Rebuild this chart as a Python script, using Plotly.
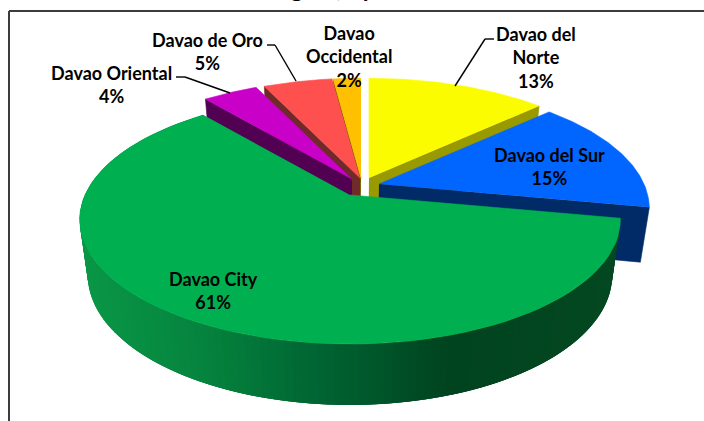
import numpy as np
import plotly.graph_objects as go

# ---- data ----
categories = ["Davao del Norte", "Davao del Sur", "Davao City",
              "Davao Oriental", "Davao de Oro", "Davao Occidental"]
values = [13, 15, 61, 4, 5, 2]
label_lines = [["Davao del", "Norte"], ["Davao del Sur"], ["Davao City"],
               ["Davao Oriental"], ["Davao de Oro"], ["Davao", "Occidental"]]
title_fragment = "Region, by"

# ---- styles ----
top_colors = ["#fcfc00", "#0066ff", "#00b050", "#c800c8", "#ff5050", "#ffc000"]
wall_colors = ["#999900", "#002b66", None, "#520052", "#702a2a", "#7f6000"]
wall_edge = ["end", "end", None, "start", "start", "start"]
draw_order = [5, 4, 3, 0, 1, 2]

# ---- 3D pie geometry (pixel space of the photo) ----
apex = [(369, 178), (379, 184), (350, 195), (352, 179), (360, 178), (361, 178)]
A, B, P = 265.0, 119.5, 0.198
label_pos = [(536, 57), (549, 166), (213, 290), (111, 84), (207, 51), (349, 56)]
leaders = [[(494, 39), (485, 39), (455, 86)],
           [(176, 77), (185, 77), (230, 93)],
           [(267, 45), (275, 45), (296, 81)]]
grad_x = [85, 200, 320, 450, 620]
grad_rgb = [(10, 150, 70), (5, 132, 62), (0, 100, 50), (0, 67, 31), (4, 72, 33)]


def project(deg, c):
    t = np.radians(deg)
    a, b = np.sin(t), -np.cos(t)
    d = 1 - P * b
    return c[0] + A * a / d, c[1] + B * b / d


def extrude(x, y):
    return 350 + (x - 350) * 0.97, 1.044 * y + 45.8


def poly(fig, xs, ys, color, lw=0.6):
    fig.add_trace(go.Scatter(x=list(xs), y=list(ys), mode="lines", fill="toself",
                             fillcolor=color, line=dict(color=color, width=lw),
                             hoverinfo="skip", showlegend=False))


shares = np.array(values, dtype=float) / sum(values) * 360
ends = np.cumsum(shares)
starts = ends - shares

fig = go.Figure()
for i in draw_order:
    c = apex[i]
    if wall_colors[i] is not None:
        ang = ends[i] if wall_edge[i] == "end" else starts[i]
        px, py = project(ang, c)
        pts = [(c[0], c[1]), (px, py), extrude(px, py), extrude(*c)]
        poly(fig, [p[0] for p in pts], [p[1] for p in pts], wall_colors[i])
    else:
        # gradient side wall: each strip runs to the wall's far end, the next paints over it
        ts = np.linspace(starts[i], ends[i], 151)
        for k in range(len(ts) - 1):
            seg = np.linspace(ts[k], ts[min(k + 3, len(ts) - 1)], 4)
            top = [project(t, c) for t in seg]
            bot = [extrude(*p) for p in top][::-1]
            xm = project((ts[k] + ts[k + 1]) / 2, c)[0]
            rgb = [int(round(np.interp(xm, grad_x, [g[j] for g in grad_rgb]))) for j in range(3)]
            poly(fig, [p[0] for p in top + bot], [p[1] for p in top + bot],
                 "rgb(%d,%d,%d)" % tuple(rgb), lw=0)
    ts = np.linspace(starts[i], ends[i], 80)
    arc = [project(t, c) for t in ts]
    poly(fig, [c[0]] + [p[0] for p in arc], [c[1]] + [p[1] for p in arc], top_colors[i])

FONT = dict(family="Lato", size=18, color="black")
anns = []
for i, lines in enumerate(label_lines):
    anns.append(dict(x=label_pos[i][0], y=label_pos[i][1], xref="x", yref="y",
                     text="<b>" + "<br>".join(lines + ["%d%%" % values[i]]) + "</b>",
                     showarrow=False, font=FONT, align="center"))
anns.append(dict(x=318 / 704, y=1, xref="paper", yref="paper", yanchor="bottom", yshift=-4,
                 text="<b>" + title_fragment + "</b>", showarrow=False,
                 font=dict(family="Lato", size=24, color="black")))

shapes = [dict(type="line", x0=9, x1=9, y0=11, y1=421, xref="x", yref="y",
               line=dict(color="#3c3c3c", width=2)),
          dict(type="line", x0=9, x1=704, y0=11, y1=11, xref="x", yref="y",
               line=dict(color="#3c3c3c", width=2))]
for L in leaders:
    for p, q in zip(L[:-1], L[1:]):
        shapes.append(dict(type="line", x0=p[0], y0=p[1], x1=q[0], y1=q[1], xref="x", yref="y",
                           line=dict(color="black", width=1.4)))

fig.update_layout(width=704, height=421, autosize=False,
                  margin=dict(l=0, r=0, t=0, b=0),
                  paper_bgcolor="white", plot_bgcolor="white",
                  xaxis=dict(range=[0, 704], visible=False, fixedrange=True),
                  yaxis=dict(range=[421, 0], visible=False, fixedrange=True),
                  showlegend=False, annotations=anns, shapes=shapes)
fig.write_html("out.html", config=dict(displayModeBar=False),
               post_script="document.body.style.margin='0';document.body.style.overflow='hidden';")
